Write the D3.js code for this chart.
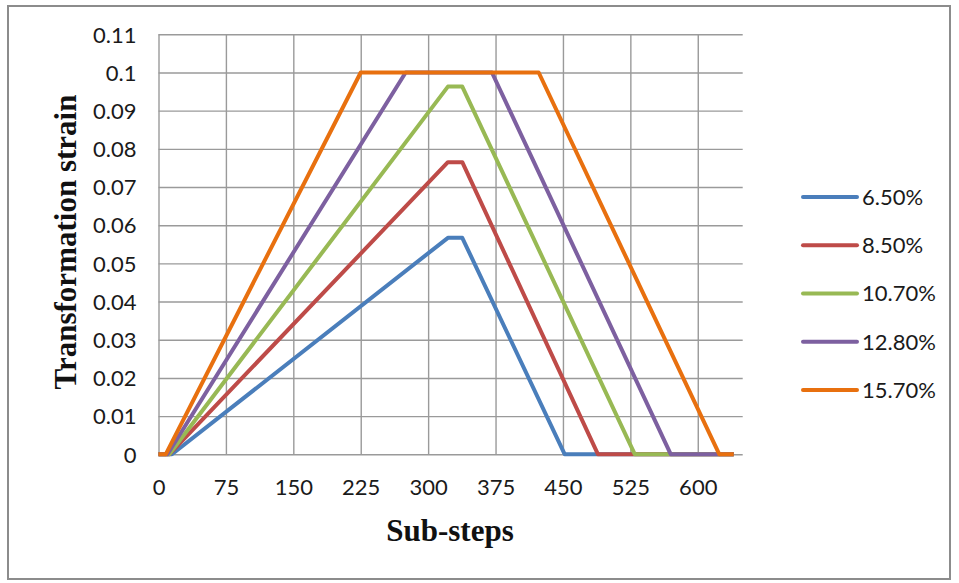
<!DOCTYPE html>
<html>
<head>
<meta charset="utf-8">
<script src="https://cdn.jsdelivr.net/npm/d3@7"></script>
<style>
  html, body { margin: 0; padding: 0; background: #fff; }
  svg { display: block; }
</style>
</head>
<body>
<svg id="chart" width="959" height="583"></svg>
<script>
// Sub-step breakpoints and transformation strain for each load level
const seriesNames = ["6.50%", "8.50%", "10.70%", "12.80%", "15.70%"];
const seriesColors = ["#4a7ebb", "#be4b48", "#98b954", "#7d60a0", "#e8700f"];
const steps655 = [0, 15, 322, 338, 452, 640];
const strain655 = [0, 0, 0.0567, 0.0567, 0, 0];
const steps850 = [0, 12, 322, 338, 489, 640];
const strain850 = [0, 0, 0.0765, 0.0765, 0, 0];
const steps1070 = [0, 12, 322, 338, 530, 640];
const strain1070 = [0, 0, 0.0963, 0.0963, 0, 0];
const steps1280 = [0, 10, 275, 371, 570, 640];
const strain1280 = [0, 0, 0.1, 0.1, 0, 0];
const steps1570 = [0, 8, 225, 423, 624, 640];
const strain1570 = [0, 0, 0.1, 0.1, 0, 0];
const xTicks = [0, 75, 150, 225, 300, 375, 450, 525, 600];
const yTicks = [0, 0.01, 0.02, 0.03, 0.04, 0.05, 0.06, 0.07, 0.08, 0.09, 0.1, 0.11];
const yTickLabels = ["0", "0.01", "0.02", "0.03", "0.04", "0.05", "0.06", "0.07", "0.08", "0.09", "0.1", "0.11"];

const stepSets = [steps655, steps850, steps1070, steps1280, steps1570];
const strainSets = [strain655, strain850, strain1070, strain1280, strain1570];
const series = seriesNames.map((name, i) => ({
  name,
  color: seriesColors[i],
  points: stepSets[i].map((s, j) => ({ x: s, y: strainSets[i][j] }))
}));

const svg = d3.select("#chart");
const W = 959, H = 583;
const labelFont = "Lato, 'Open Sans', sans-serif";
const titleFont = "'Liberation Serif', 'Times New Roman', serif";

// outer frame
svg.append("rect")
  .attr("x", 8).attr("y", 6).attr("width", W - 17).attr("height", H - 10)
  .attr("fill", "#fff").attr("stroke", "#8c8c8c").attr("stroke-width", 2);

const plot = { left: 158.5, right: 742.7, top: 34.3, bottom: 454.3 };
const x = d3.scaleLinear().domain([0, 650]).range([plot.left, plot.right]);
const y = d3.scaleLinear().domain([0, 0.11]).range([plot.bottom, plot.top]);

const g = svg.append("g");

// horizontal grid
g.append("g")
  .attr("transform", `translate(${plot.left},0)`)
  .call(d3.axisLeft(y).tickValues(yTicks).tickSize(-(plot.right - plot.left)).tickFormat(""))
  .call(a => a.select(".domain").remove())
  .call(a => a.selectAll("line").attr("stroke", "#9a9a9a").attr("stroke-width", 1.4));

// vertical grid
g.append("g")
  .attr("transform", `translate(0,${plot.bottom})`)
  .call(d3.axisBottom(x).tickValues(xTicks).tickSize(-(plot.bottom - plot.top)).tickFormat(""))
  .call(a => a.select(".domain").remove())
  .call(a => a.selectAll("line").attr("stroke", "#9a9a9a").attr("stroke-width", 1.4));

// tick labels
const yAxis = g.append("g")
  .attr("transform", `translate(${plot.left - 22},0)`)
  .call(d3.axisLeft(y).tickValues(yTicks).tickSize(0).tickFormat((d, i) => yTickLabels[i]));
yAxis.select(".domain").remove();
yAxis.selectAll("text")
  .attr("font-family", labelFont)
  .attr("font-size", 22).attr("fill", "#1a1a1a").attr("x", 0).attr("dy", "0.35em");

const xAxis = g.append("g")
  .attr("transform", `translate(0,${plot.bottom + 22})`)
  .call(d3.axisBottom(x).tickValues(xTicks).tickSize(0).tickFormat(d3.format("d")));
xAxis.select(".domain").remove();
xAxis.selectAll("text")
  .attr("font-family", labelFont)
  .attr("font-size", 22).attr("fill", "#1a1a1a").attr("dy", "0.71em");

// series lines
const line = d3.line().x(d => x(d.x)).y(d => y(d.y));
g.append("g").selectAll("path")
  .data(series)
  .join("path")
  .attr("d", d => line(d.points))
  .attr("fill", "none")
  .attr("stroke", d => d.color)
  .attr("stroke-width", 4)
  .attr("stroke-linejoin", "round");

// axis titles
svg.append("text")
  .attr("x", 450).attr("y", 541)
  .attr("text-anchor", "middle")
  .attr("font-family", titleFont)
  .attr("font-weight", "bold").attr("font-size", 31).attr("fill", "#111")
  .text("Sub-steps");

svg.append("text")
  .attr("transform", "translate(76,242) rotate(-90)")
  .attr("text-anchor", "middle")
  .attr("font-family", titleFont)
  .attr("font-weight", "bold").attr("font-size", 31).attr("fill", "#111")
  .text("Transformation  strain");

// legend
const legend = svg.append("g");
const legendY = d3.scalePoint().domain(seriesNames).range([197, 390]);
const items = legend.selectAll("g").data(series).join("g")
  .attr("transform", d => `translate(803,${legendY(d.name)})`);
items.append("line")
  .attr("x1", 0).attr("x2", 54)
  .attr("stroke", d => d.color).attr("stroke-width", 4).attr("stroke-linecap", "round");
items.append("text")
  .attr("x", 59).attr("dy", "0.36em")
  .attr("font-family", labelFont)
  .attr("font-size", 22).attr("fill", "#1a1a1a")
  .text(d => d.name);
</script>
</body>
</html>
